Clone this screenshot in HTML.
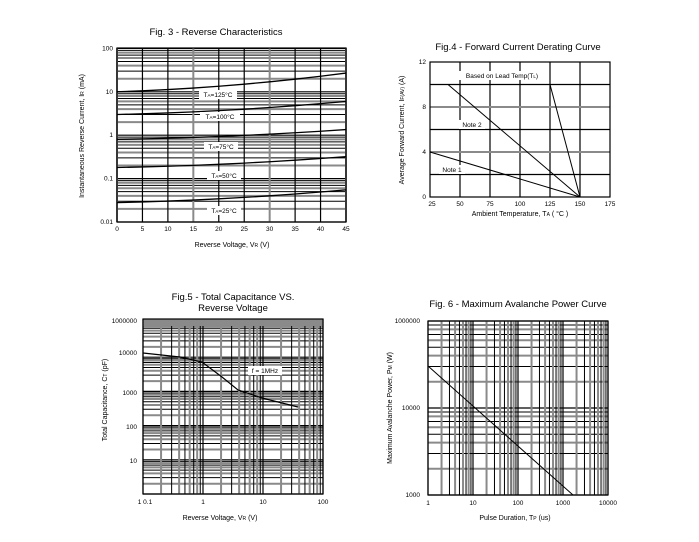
<!DOCTYPE html><html><head><style>body{margin:0;background:#fff}svg{display:block}text{font-family:"Liberation Sans",sans-serif;fill:#000}</style></head><body>
<svg id="s" width="699" height="542" xmlns="http://www.w3.org/2000/svg">
<g font-size="9.5" text-anchor="middle">
<text x="216" y="35">Fig. 3 - Reverse Characteristics</text>
<text x="518" y="50">Fig.4 - Forward Current Derating Curve</text>
<text x="233" y="300">Fig.5 - Total Capacitance VS.</text>
<text x="233" y="311">Reverse Voltage</text>
<text x="518" y="307">Fig. 6 - Maximum Avalanche Power Curve</text>
</g>
<g font-size="7" text-anchor="middle">
<text x="232" y="247">Reverse Voltage, V<tspan font-size="5">R</tspan> (V)</text>
<text x="520" y="216">Ambient Temperature, T<tspan font-size="5">A</tspan> ( °C )</text>
<text x="220" y="520">Reverse Voltage, V<tspan font-size="5">R</tspan> (V)</text>
<text x="515" y="520">Pulse Duration, T<tspan font-size="5">P</tspan> (us)</text>
<text transform="translate(84,136) rotate(-90)">Instantaneous Reverse Current, I<tspan font-size="5">R</tspan> (mA)</text>
<text transform="translate(404,130) rotate(-90)">Average Forward Current, I<tspan font-size="5">F(AV)</tspan> (A)</text>
<text transform="translate(107,400) rotate(-90)">Total Capacitance, C<tspan font-size="5">T</tspan> (pF)</text>
<text transform="translate(392,408) rotate(-90)">Maximum Avalanche Power, P<tspan font-size="5">M</tspan> (W)</text>
</g>
<g id="g"></g>
</svg>
<script>
var g=document.getElementById('g'),h='';
function L(x1,y1,x2,y2,c,w){h+='<line x1="'+x1+'" y1="'+y1+'" x2="'+x2+'" y2="'+y2+'" stroke="'+c+'" stroke-width="'+w+'"/>';}
function T(x,y,t,a,fs){h+='<text x="'+x+'" y="'+y+'" font-size="'+(fs||6.5)+'" text-anchor="'+(a||'middle')+'">'+t+'</text>';}
function logH(x0,x1,ybot,dec,n){for(var d=0;d<n;d++)for(var k=2;k<=9;k++){var y=ybot-dec*(d+Math.log10(k));L(x0,y,x1,y,k%2?'#000':'#8a8a8a',k%2?1:2);}for(var d=0;d<=n;d++){var y=ybot-dec*d;L(x0,y,x1,y,'#000',1.2);}}
function logV(y0,y1,xl,dec,n){for(var d=0;d<n;d++)for(var k=2;k<=9;k++){var x=xl+dec*(d+Math.log10(k));L(x,y0,x,y1,k%2?'#000':'#8a8a8a',k%2?1:2);}for(var d=0;d<=n;d++){var x=xl+dec*d;L(x,y0,x,y1,'#000',1.2);}}
function box(x0,y0,x1,y1){h+='<rect x="'+x0+'" y="'+y0+'" width="'+(x1-x0)+'" height="'+(y1-y0)+'" fill="none" stroke="#000" stroke-width="1.2"/>';}
function poly(p,w){h+='<polyline fill="none" stroke="#000" stroke-width="'+(w||1)+'" points="'+p.map(function(q){return q.join(',')}).join(' ')+'"/>';}
function lab(x,y,w,t){h+='<rect x="'+(x-w/2)+'" y="'+(y-6)+'" width="'+w+'" height="9" fill="#fff"/>';T(x,y+1,t);}
// Fig3
var X0=117,X1=346,YB=222,D=43.4;
logH(X0,X1,YB,D,4);
for(var i=0;i<=9;i++){var x=X0+i*(X1-X0)/9;L(x,48,x,YB,i%3==0?'#8a8a8a':'#000',i%3==0?2:1.2);T(x,231,i*5);}
box(X0,48,X1,YB);
['0.01','0.1','1','10','100'].forEach(function(t,i){T(113,YB-i*D+2,t,'end');});
function c3(a,b){var p=[];for(var v=0;v<=45;v+=5){var f=v/45,val=a*Math.pow(b/a,f*f*0.6+f*0.4);p.push([X0+v/45*(X1-X0),YB-D*(Math.log10(val)+2)]);}poly(p,1.3);}
c3(10,27);c3(3,6);c3(0.8,1.35);c3(0.18,0.32);c3(0.028,0.055);
lab(218,96,38,'T<tspan font-size="4.5">A</tspan>=125°C');lab(220,118,40,'T<tspan font-size="4.5">A</tspan>=100°C');
lab(221,148,34,'T<tspan font-size="4.5">A</tspan>=75°C');lab(224,177,34,'T<tspan font-size="4.5">A</tspan>=50°C');lab(224,212,34,'T<tspan font-size="4.5">A</tspan>=25°C');
// Fig4
var ax=430,bx=610,ty=62,by=197;
function fx(t){return ax+(t-25)/150*(bx-ax)}function fy(a){return by-a/12*(by-ty)}
for(var t=50;t<175;t+=25){L(fx(t),ty,fx(t),by,'#000',1.2)}
for(var a=2;a<12;a+=2){L(ax,fy(a),bx,fy(a),a%4?'#000':'#8a8a8a',a%4?1.2:2)}
box(ax,ty,bx,by);
for(var t=25;t<=175;t+=25)T(fx(t)+(t==25?2:0),206,t);
[0,4,8,12].forEach(function(a){T(ax-4,fy(a)+2,a,'end')});
poly([[fx(25),fy(4)],[fx(150),fy(0)]]);poly([[fx(40),fy(10)],[fx(150),fy(0)]]);poly([[fx(125),fy(10)],[fx(150),fy(0)]]);
lab(502,77,90,'Based on Lead Temp(T<tspan font-size="4.5">L</tspan>)');lab(472,126,26,'Note 2');lab(452,171,26,'Note 1');
// Fig5
var cx0=143,cx1=323,cyb=494,cd=34.2;
logH(cx0,cx1,cyb,cd,5);logV(319,cyb,cx0,60,3);
h+='<rect x="'+cx0+'" y="319" width="180" height="7" fill="#8a8a8a"/>';
box(cx0,319,cx1,cyb);
T(145,504,'1 0.1');T(203,504,'1');T(263,504,'10');T(323,504,'100');
[['10',461],['100',427],['1000',393],['10000',353],['1000000',321]].forEach(function(q){T(137,q[1]+2,q[0],'end')});
poly([[143,353],[180,357],[202,362],[222,377],[238,390],[262,398],[298,407]],1.2);
lab(265,372,34,'f = 1MHz');
// Fig6
var px0=428,px1=608,pyb=495,pd=87;
logH(px0,px1,pyb,pd,2);logV(321,pyb,px0,45,4);
box(px0,321,px1,pyb);
['1','10','100','1000','10000'].forEach(function(t,i){T(px0+i*45,505,t)});
T(420,323,'1000000','end');T(420,410,'10000','end');T(420,497,'1000','end');
poly([[428,366],[573,495]],1);
g.innerHTML=h;
</script>
</body></html>
